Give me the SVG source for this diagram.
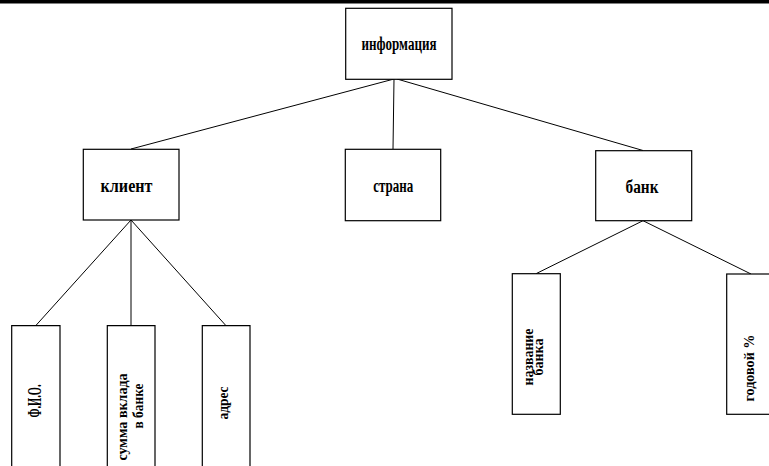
<svg xmlns="http://www.w3.org/2000/svg" width="769" height="466" viewBox="0 0 769 466">
<style>
.box{fill:#fff;stroke:#000;stroke-width:1.2}
.ln{stroke:#000;stroke-width:1;fill:none}
text{font-family:"Liberation Serif","Times New Roman",serif;font-weight:bold;fill:#000;text-anchor:middle}
.t1{font-size:18px}
.t2{font-size:15px}
</style>
<rect x="0" y="0" width="769" height="3.5" fill="#000"/>
<g id="connectors">
<line class="ln" x1="394" y1="79" x2="131" y2="149"/>
<line class="ln" x1="394" y1="79" x2="393" y2="149"/>
<line class="ln" x1="397" y1="79" x2="643" y2="150.5"/>
<line class="ln" x1="131" y1="220" x2="35.7" y2="325.7"/>
<line class="ln" x1="131" y1="220" x2="131" y2="325.7"/>
<line class="ln" x1="131" y1="220" x2="226" y2="325.7"/>
<line class="ln" x1="643" y1="220.7" x2="536" y2="273.7"/>
<line class="ln" x1="643" y1="220.7" x2="751" y2="274"/>
</g>
<g id="info"><rect class="box" x="345.7" y="8.3" width="106.3" height="71"/><text class="t1" x="399" y="50" textLength="75" lengthAdjust="spacingAndGlyphs">информация</text></g>
<g id="client"><rect class="box" x="83.3" y="149.3" width="95.7" height="70.7"/><text class="t1" x="126.5" y="192" textLength="52" lengthAdjust="spacingAndGlyphs">клиент</text></g>
<g id="country"><rect class="box" x="345.3" y="149.3" width="95.4" height="71.4"/><text class="t1" x="393.3" y="192" textLength="40" lengthAdjust="spacingAndGlyphs">страна</text></g>
<g id="bank"><rect class="box" x="595.7" y="150.7" width="96" height="70"/><text class="t1" x="642" y="192.5" textLength="33" lengthAdjust="spacingAndGlyphs">банк</text></g>
<g id="fio"><path class="box" d="M11.7,467 V325.7 H60 V467"/><text class="t1" transform="translate(40.5,401) rotate(-90)" textLength="33" lengthAdjust="spacingAndGlyphs">Ф.И.О.</text></g>
<g id="sum"><path class="box" d="M107.3,467 V325.7 H155 V467"/><text class="t2" transform="translate(127,417) rotate(-90)" textLength="87" lengthAdjust="spacingAndGlyphs">сумма вклада</text><text class="t2" transform="translate(142.5,406) rotate(-90)" textLength="45" lengthAdjust="spacingAndGlyphs">в банке</text></g>
<g id="address"><path class="box" d="M202.3,467 V325.7 H250 V467"/><text class="t2" transform="translate(227.5,403) rotate(-90)" textLength="33" lengthAdjust="spacingAndGlyphs">адрес</text></g>
<g id="bankname"><rect class="box" x="512.3" y="273.7" width="48" height="140.6"/><text class="t2" transform="translate(532.5,357) rotate(-90)" textLength="57" lengthAdjust="spacingAndGlyphs">название</text><text class="t2" transform="translate(543,357) rotate(-90)" textLength="37" lengthAdjust="spacingAndGlyphs">банка</text></g>
<g id="rate"><rect class="box" x="726.7" y="274" width="48" height="140.3"/><text class="t2" transform="translate(754,368) rotate(-90)" textLength="67" lengthAdjust="spacingAndGlyphs">годовой %</text></g>
</svg>
